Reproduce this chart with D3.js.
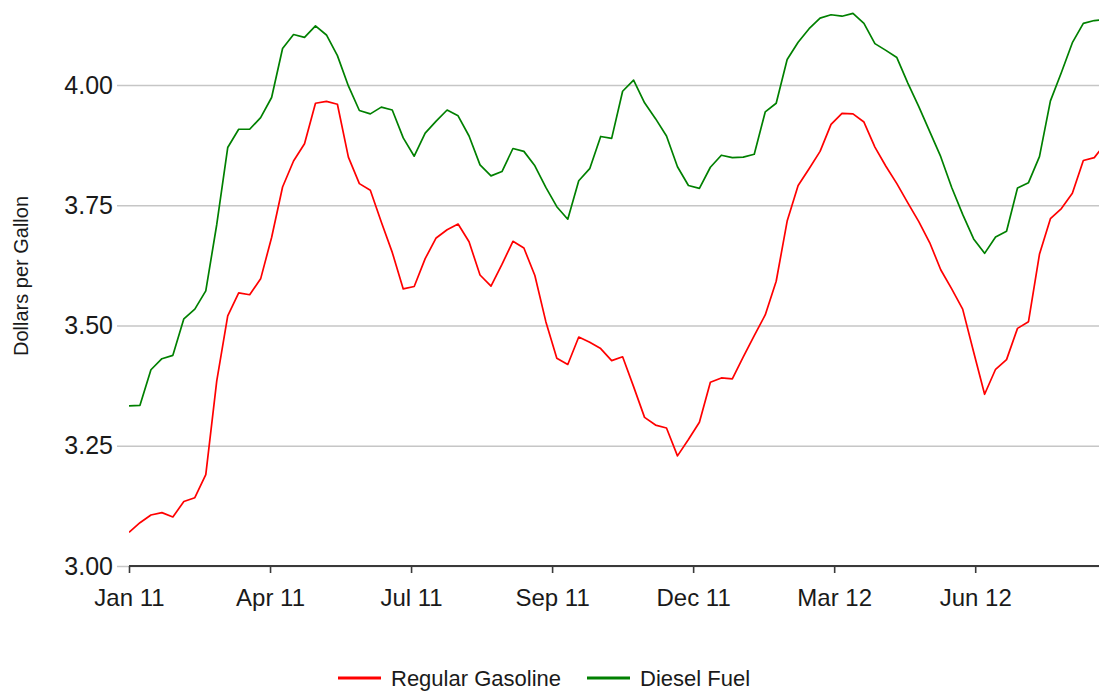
<!DOCTYPE html>
<html>
<head>
<meta charset="utf-8">
<script src="https://cdn.jsdelivr.net/npm/d3@7"></script>
<style>
  html, body { margin: 0; padding: 0; background: #fff; }
  svg { display: block; font-family: "Liberation Sans", Arial, sans-serif; }
</style>
</head>
<body>
<svg id="chart" width="1099" height="694"></svg>
<script>
// ---- data (weekly, starting Mon Jan 3 2011) ----
const startDate = new Date(2011, 0, 3);
const endDate = new Date(2012, 8, 13);

const gasoline = [
  3.070, 3.090, 3.106, 3.111, 3.102, 3.134, 3.142, 3.190, 3.385, 3.520,
  3.568, 3.564, 3.597, 3.683, 3.788, 3.842, 3.878, 3.962, 3.966, 3.960,
  3.850, 3.795, 3.781, 3.715, 3.652, 3.576, 3.581, 3.639, 3.682, 3.699,
  3.711, 3.674, 3.605, 3.582, 3.627, 3.675, 3.661, 3.604, 3.508, 3.432,
  3.419, 3.476, 3.465, 3.452, 3.427, 3.435, 3.373, 3.309, 3.293, 3.287,
  3.229, 3.263, 3.299, 3.382, 3.391, 3.389, 3.435, 3.479, 3.522, 3.592,
  3.717, 3.791, 3.826, 3.862, 3.918, 3.941, 3.940, 3.923, 3.871, 3.831,
  3.795, 3.755, 3.716, 3.672, 3.616, 3.576, 3.534, 3.445, 3.357, 3.409,
  3.429, 3.494, 3.508, 3.648, 3.722, 3.743, 3.775, 3.843, 3.849, 3.878
];

const diesel = [
  3.333, 3.334, 3.408, 3.431, 3.438, 3.514, 3.534, 3.572, 3.710, 3.870,
  3.908, 3.908, 3.932, 3.974, 4.076, 4.105, 4.099, 4.123, 4.104, 4.061,
  3.998, 3.947, 3.940, 3.954, 3.948, 3.890, 3.852, 3.900, 3.925, 3.948,
  3.936, 3.894, 3.834, 3.811, 3.820, 3.868, 3.862, 3.832, 3.787, 3.747,
  3.721, 3.801, 3.826, 3.893, 3.889, 3.987, 4.010, 3.963, 3.930, 3.894,
  3.830, 3.791, 3.785, 3.829, 3.854, 3.849, 3.850, 3.856, 3.944, 3.962,
  4.053, 4.089, 4.117, 4.139, 4.146, 4.143, 4.149, 4.128, 4.086, 4.072,
  4.057, 4.004, 3.955, 3.903, 3.851, 3.787, 3.731, 3.680, 3.650, 3.684,
  3.696, 3.786, 3.797, 3.851, 3.967, 4.026, 4.088, 4.128, 4.134, 4.136
];

const seriesNames = ["Regular Gasoline", "Diesel Fuel"];
const seriesColors = ["#ff0000", "#008000"];

const yTicks = [3.00, 3.25, 3.50, 3.75, 4.00];
const xTickDayOffsets = [0, 90, 180, 270, 360, 450, 540];
const xTickLabels = ["Jan 11", "Apr 11", "Jul 11", "Sep 11", "Dec 11", "Mar 12", "Jun 12"];

const dates = gasoline.map((_, i) => d3.timeDay.offset(startDate, 7 * i));

// ---- layout ----
const svg = d3.select("#chart");
const plotLeft = 129, plotRight = 1099, plotTop = 0, plotBottom = 566;

const x = d3.scaleTime().domain([startDate, endDate]).range([plotLeft, plotRight]);
const y = d3.scaleLinear().domain([3, 4]).range([plotBottom, 85]);

svg.append("defs").append("clipPath").attr("id", "clip")
  .append("rect").attr("x", plotLeft).attr("y", plotTop)
  .attr("width", plotRight - plotLeft).attr("height", plotBottom - plotTop);

// gridlines + y labels
const yAxis = d3.axisLeft(y).tickValues(yTicks)
  .tickSize(-(plotRight - plotLeft + 12)).tickPadding(4)
  .tickFormat(d3.format(".2f"));
const gy = svg.append("g").attr("transform", `translate(${plotLeft - 12},0)`).call(yAxis);
gy.select(".domain").remove();
gy.selectAll(".tick line").attr("stroke", "#c6c6c6").attr("stroke-width", 1.5);
gy.selectAll(".tick text").attr("fill", "#1a1a1a").attr("font-size", 25)
  .attr("font-family", "Liberation Sans, Arial, sans-serif");

// x axis
const tickDates = xTickDayOffsets.map(d => d3.timeDay.offset(startDate, d));
const xAxis = d3.axisBottom(x).tickValues(tickDates).tickSize(7).tickPadding(16)
  .tickFormat((d, i) => xTickLabels[i]);
const gx = svg.append("g").attr("transform", `translate(0,${plotBottom})`).call(xAxis);
gx.select(".domain").attr("stroke", "#3a3a3a").attr("stroke-width", 2.2)
  .attr("d", `M${plotLeft},0H${plotRight + 5}`);
gx.selectAll(".tick line").attr("stroke", "#3a3a3a").attr("stroke-width", 1.6);
gx.selectAll(".tick text").attr("fill", "#1a1a1a").attr("font-size", 24)
  .attr("font-family", "Liberation Sans, Arial, sans-serif");

// y title
svg.append("text")
  .attr("transform", `translate(28,276) rotate(-90)`)
  .attr("text-anchor", "middle")
  .attr("font-size", 20)
  .attr("fill", "#1a1a1a")
  .text("Dollars per Gallon");

// lines
const line = d3.line().x((d, i) => x(dates[i])).y(d => y(d));
[gasoline, diesel].forEach((s, k) => {
  svg.append("path")
    .attr("clip-path", "url(#clip)")
    .attr("d", line(s))
    .attr("fill", "none")
    .attr("stroke", seriesColors[k])
    .attr("stroke-width", 1.7)
    .attr("stroke-linejoin", "round");
});

// legend
const legendItems = [
  { x: 338, textX: 391 },
  { x: 587, textX: 640 }
];
const lg = svg.append("g");
seriesNames.forEach((name, k) => {
  lg.append("line")
    .attr("x1", legendItems[k].x).attr("x2", legendItems[k].x + 43)
    .attr("y1", 678).attr("y2", 678)
    .attr("stroke", seriesColors[k]).attr("stroke-width", 3);
  lg.append("text")
    .attr("x", legendItems[k].textX).attr("y", 686)
    .attr("font-size", 22)
    .attr("fill", "#1a1a1a")
    .text(name);
});
</script>
</body>
</html>
